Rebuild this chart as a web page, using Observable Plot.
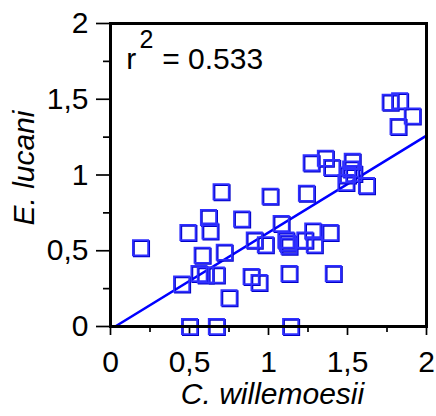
<!DOCTYPE html>
<html><head><meta charset="utf-8">
<script src="https://cdn.jsdelivr.net/npm/d3@7"></script>
<script src="https://cdn.jsdelivr.net/npm/@observablehq/plot@0.6"></script>
<style>body{margin:0;background:#fff}</style>
</head><body><div id="chart"></div>
<script>
// C. willemoesii (x) vs E. lucani (y)
const xValues = [0.19,0.45,0.50,0.67,1.14,0.49,0.62,0.63,0.70,0.58,0.72,0.56,0.60,0.67,0.75,0.89,0.94,0.83,1.01,0.91,0.98,1.08,1.11,1.13,1.12,1.13,1.24,1.23,1.28,1.29,1.39,1.41,1.27,1.36,1.40,1.53,1.52,1.50,1.49,1.54,1.62,1.77,1.83,1.91,1.82];
const yValues = [0.52,0.28,0.00,0.00,0.00,0.62,0.72,0.63,0.89,0.47,0.49,0.35,0.34,0.34,0.19,0.33,0.29,0.71,0.86,0.57,0.54,0.68,0.57,0.53,0.55,0.35,0.88,0.57,0.63,0.54,0.62,0.35,1.08,1.11,1.05,1.09,1.04,1.00,0.95,1.01,0.93,1.48,1.49,1.39,1.32];
const lineX = [0.03, 2.0];
const lineY = [0.0, 1.26];
const majorTicks = [0, 0.5, 1, 1.5, 2];
const minorTicks = [0.25, 0.75, 1.25, 1.75];
const xTitle = "C. willemoesii";
const yTitle = "E. lucani";
const annoText = ["r", "2", "= 0.533"];
const annoX = [0.10, 0.184, 0.327];
const annoY = [1.70, 1.835, 1.70];
const annoSize = [30, 25, 30];

const points = xValues.map((x, i) => ({x, y: yValues[i]}));
const fitLine = lineX.map((x, i) => ({x, y: lineY[i]}));
const anno = annoText.map((t, i) => ({t, x: annoX[i], y: annoY[i], s: annoSize[i]}));
const fmt = d => String(d).replace(".", ",");
const blank = () => "";

const chart = Plot.plot({
  width: 436, height: 416,
  marginLeft: 110, marginRight: 10, marginTop: 23, marginBottom: 90,
  x: {domain: [0, 2]},
  y: {domain: [0, 2]},
  style: {fontFamily: "'Liberation Sans', Arial, Helvetica, sans-serif", fontSize: "30px", color: "#000", background: "#fff"},
  marks: [
    Plot.axisX(majorTicks, {tickSize: 9, tickPadding: 15, tickFormat: fmt, label: null, strokeWidth: 1.7}),
    Plot.axisX(minorTicks, {tickSize: 6, tickFormat: blank, label: null, strokeWidth: 1.7}),
    Plot.axisY(majorTicks, {tickSize: 14, tickPadding: 8, tickFormat: fmt, label: null, strokeWidth: 1.7}),
    Plot.axisY(minorTicks, {tickSize: 7, tickFormat: blank, label: null, strokeWidth: 1.7}),
    Plot.line(fitLine, {x: "x", y: "y", stroke: "#0000ff", strokeWidth: 2.6}),
    Plot.dot(points, {x: "x", y: "y", symbol: "square", r: 8.6, stroke: "#0000c8", strokeWidth: 1.8, dx: 1, dy: 1}),
    Plot.dot(points, {x: "x", y: "y", symbol: "square", r: 8.6, stroke: "#3030ff", strokeWidth: 1.8}),
    Plot.text(anno, {x: "x", y: "y", text: "t", fontSize: d => d.s, textAnchor: "start", lineAnchor: "bottom", fill: "#000"}),
    Plot.text([xTitle], {frameAnchor: "bottom", textAnchor: "middle", dx: 4, dy: 77, lineAnchor: "bottom", fontStyle: "italic", fontSize: 30, fill: "#000"}),
    Plot.text([yTitle], {frameAnchor: "left", textAnchor: "middle", rotate: -90, dx: -77, dy: -7, lineAnchor: "bottom", fontStyle: "italic", fontSize: 30, fill: "#000"}),
    Plot.frame({stroke: "#000", strokeWidth: 3})
  ]
});
document.getElementById("chart").appendChild(chart);
</script>
</body></html>
